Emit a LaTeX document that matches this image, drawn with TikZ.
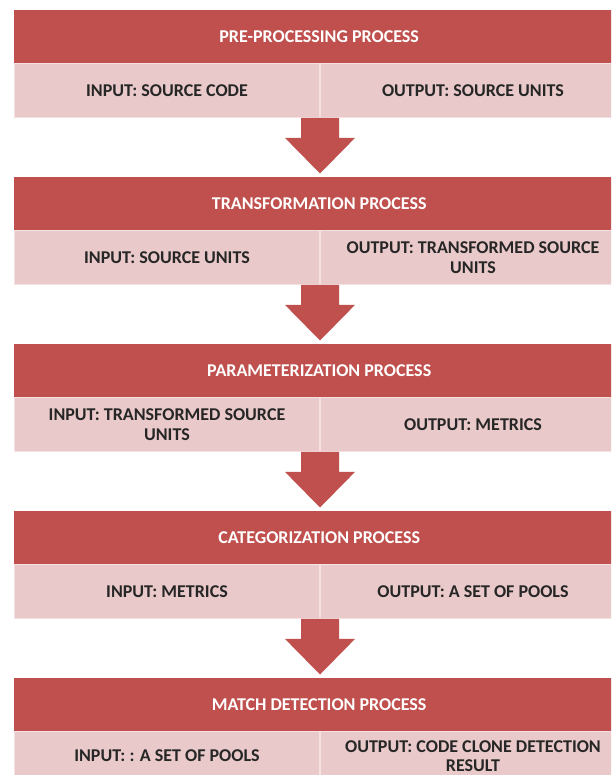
\documentclass[tikz,border=0pt]{standalone}
\usepackage{fontspec}
\setmainfont{Carlito}
\usetikzlibrary{calc}

\definecolor{hdrred}{RGB}{192,80,77}
\definecolor{rowpink}{RGB}{233,201,201}
\definecolor{cellline}{RGB}{245,225,225}

\tikzset{
  hdr/.style={anchor=north west, fill=hdrred, text=white, minimum width=610pt,
    minimum height=53pt, inner sep=0pt, font=\fontsize{18}{21}\selectfont\bfseries},
  cell/.style={anchor=north west, fill=rowpink, draw=cellline, line width=1pt,
    text=black!85, minimum width=305pt, minimum height=54pt, inner sep=0pt,
    align=center, font=\fontsize{18}{20}\selectfont\bfseries},
  blockarrow/.style={fill=hdrred}
}

% broad down arrow between the bottom of one row and the next header
\newcommand{\downblock}[2]{%
  \fill[blockarrow] ($(#1)+(-19,0)$) -- ($(#1)+(19,0)$) -- ($(#1)+(19,20)$)
    -- ($(#1)+(35,20)$) -- ($(#1 |- #2)+(0,-3)$) -- ($(#1)+(-35,20)$)
    -- ($(#1)+(-19,20)$) -- cycle;}

\begin{document}
\begin{tikzpicture}[x=1pt,y=-1pt]
\useasboundingbox (0,0) rectangle (611,775);
\fill[white] (0,0) rectangle (611,775);
\clip (0,0) rectangle (611,775);

% stage 1
\node[hdr] (h1) at (14,9.5) {PRE-PROCESSING PROCESS};
\node[cell] (i1) at (h1.south west) {INPUT: SOURCE CODE};
\node[cell] (o1) at (i1.north east) {OUTPUT: SOURCE UNITS};

% stage 2
\node[hdr] (h2) at (14,176.5) {TRANSFORMATION PROCESS};
\node[cell] (i2) at (h2.south west) {INPUT: SOURCE UNITS};
\node[cell] (o2) at (i2.north east) {OUTPUT: TRANSFORMED SOURCE\\UNITS};

% stage 3
\node[hdr] (h3) at (14,343.5) {PARAMETERIZATION PROCESS};
\node[cell] (i3) at (h3.south west) {INPUT: TRANSFORMED SOURCE\\UNITS};
\node[cell] (o3) at (i3.north east) {OUTPUT: METRICS};

% stage 4
\node[hdr] (h4) at (14,510.5) {CATEGORIZATION PROCESS};
\node[cell] (i4) at (h4.south west) {INPUT: METRICS};
\node[cell] (o4) at (i4.north east) {OUTPUT: A SET OF POOLS};

% stage 5 (its row runs to the lower edge)
\node[hdr] (h5) at (14,677.5) {MATCH DETECTION PROCESS};
\node[cell, minimum height=49pt] (i5) at (h5.south west) {INPUT: : A SET OF POOLS};
\node[cell, minimum height=49pt, font=\fontsize{18}{19}\selectfont\bfseries] (o5)
  at (i5.north east) {OUTPUT: CODE CLONE DETECTION\\RESULT};

% arrows between stages
\downblock{i1.south east}{h2.north}
\downblock{i2.south east}{h3.north}
\downblock{i3.south east}{h4.north}
\downblock{i4.south east}{h5.north}
\end{tikzpicture}
\end{document}
